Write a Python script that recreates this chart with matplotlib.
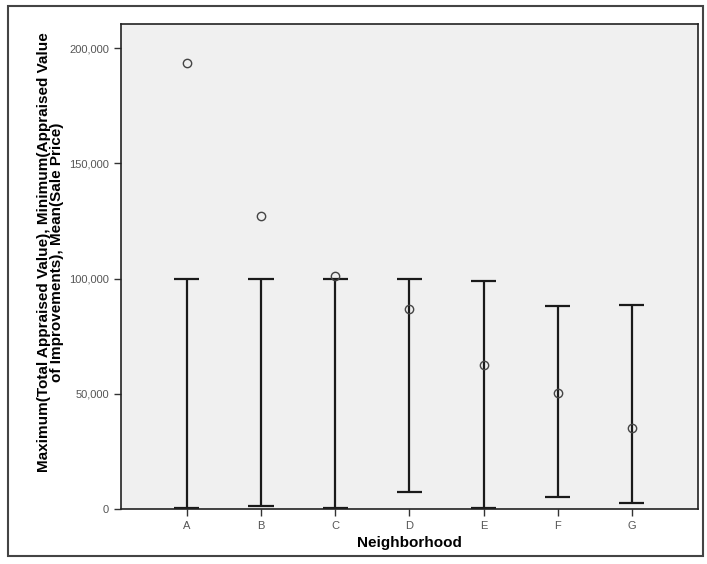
import matplotlib
matplotlib.use('Agg')
import matplotlib.pyplot as plt
from matplotlib.ticker import FuncFormatter
from matplotlib.patches import Rectangle

plt.rcParams['font.family'] = ['Liberation Sans', 'DejaVu Sans']

# ---- data ----
neighborhoods = ['A', 'B', 'C', 'D', 'E', 'F', 'G']
max_total_appraised = [100000, 100000, 100000, 99800, 98900, 88000, 88500]
min_improvements = [500, 1500, 600, 7400, 600, 5200, 2600]
mean_sale_price = [193500, 127000, 101000, 87000, 62700, 50400, 35100]

fig = plt.figure(figsize=(7.07, 5.64), dpi=100)
fig.patch.set_facecolor('white')
ax = fig.add_axes([0.171, 0.0975, 0.816, 0.8595])
ax.set_facecolor('#f0f0f0')

x = list(range(len(neighborhoods)))

# range bars min -> max with caps
for xi, lo, hi in zip(x, min_improvements, max_total_appraised):
    ax.vlines(xi, lo, hi, color='#1a1a1a', lw=1.6, zorder=2)
    ax.hlines([lo, hi], xi - 0.17, xi + 0.17, color='#1a1a1a', lw=1.6, zorder=2)

# mean points
ax.plot(x, mean_sale_price, linestyle='none', marker='o', ms=6,
        mfc='none', mec='#444444', mew=1.0, zorder=3)

ax.set_xlim(-0.89, 6.89)
ax.set_ylim(0, 210400)
ax.set_xticks(x)
ax.set_xticklabels(neighborhoods)
ax.set_yticks([0, 50000, 100000, 150000, 200000])
ax.yaxis.set_major_formatter(FuncFormatter(lambda v, p: f'{int(v):,}'))
ax.tick_params(axis='both', direction='out', length=5, width=1,
               labelsize=8, labelcolor='#555555', color='#333333')

for s in ax.spines.values():
    s.set_color('#222222')
    s.set_linewidth(1.2)

ax.set_xlabel('Neighborhood', fontsize=11, fontweight='bold', labelpad=4)
ax.set_ylabel('Maximum(Total Appraised Value), Minimum(Appraised Value\n'
              'of Improvements), Mean(Sale Price)',
              fontsize=11, fontweight='bold', linespacing=0.9)
ax.yaxis.set_label_coords(-0.098, 0.53)

# outer frame around the whole picture
fig.add_artist(Rectangle((0.011, 0.015), 0.983, 0.975, transform=fig.transFigure,
                         fill=False, edgecolor='#444444', lw=1.5))

fig.savefig('out.png', dpi=100)
